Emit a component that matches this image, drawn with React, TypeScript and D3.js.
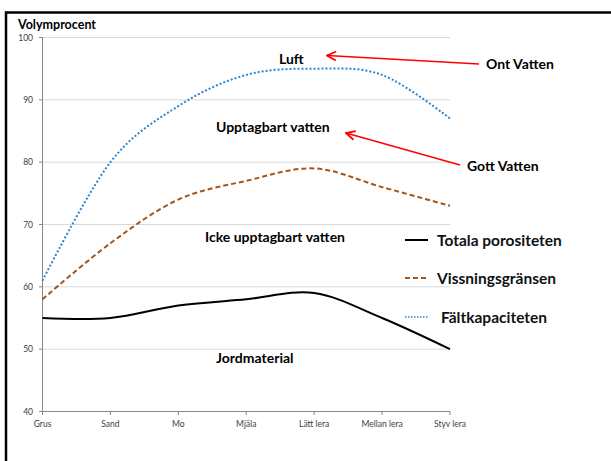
import * as d3 from "d3";

const categories = ["Grus", "Sand", "Mo", "Mjäla", "Lätt lera", "Mellan lera", "Styv lera"];
const totalPorosity = [55, 55, 57, 58, 59, 55, 50];
const wiltingPoint = [58, 67, 74, 77, 79, 76, 73];
const fieldCapacity = [61, 80, 89, 94, 95, 94, 87];
const yTicks = [40, 50, 60, 70, 80, 90, 100];

const FONT = "Lato, 'Open Sans', sans-serif";

const App = () => {
  const x = d3.scalePoint<string>().domain(categories).range([42.5, 450]);
  const y = d3.scaleLinear().domain([40, 100]).range([411.5, 37.5]);

  const line = d3
    .line<number>()
    .x((d, i) => x(categories[i]) as number)
    .y((d) => y(d))
    .curve(d3.curveCatmullRom.alpha(0));

  const series = [
    { name: "Totala porositeten", values: totalPorosity, color: "#000000", dash: "none", width: 2 },
    { name: "Vissningsgränsen", values: wiltingPoint, color: "#A0561C", dash: "5 3", width: 2 },
    { name: "Fältkapaciteten", values: fieldCapacity, color: "#2A84D2", dash: "2 2", width: 2 },
  ];

  const legendY = [240, 278, 317];

  return (
    <svg
      width={611}
      height={461}
      style={{ position: "absolute", left: 0, top: 0, background: "#fff" }}
    >
      <defs>
        <marker id="arrow" viewBox="0 0 10 10" refX="9" refY="5" markerWidth="7" markerHeight="7" orient="auto">
          <path d="M1,1 L9,5 L1,9" fill="none" stroke="#FF0000" strokeWidth="1.6" />
        </marker>
      </defs>
      <rect x={6} y={12.5} width={800} height={600} fill="none" stroke="#000" strokeWidth={2.5} />

      {/* gridlines */}
      {yTicks.slice(1).map((t) => (
        <line key={t} x1={42.5} x2={450} y1={y(t)} y2={y(t)} stroke="#D9D9D9" strokeWidth={1} />
      ))}

      {/* axes */}
      <line x1={42.5} x2={42.5} y1={37.5} y2={411.5} stroke="#868686" />
      <line x1={42.5} x2={450} y1={411.5} y2={411.5} stroke="#868686" />
      {yTicks.map((t) => (
        <g key={t}>
          <line x1={39} x2={42.5} y1={y(t)} y2={y(t)} stroke="#868686" />
          <text x={33} y={y(t) + 3} fontSize={8.5} fill="#404040" textAnchor="end" fontFamily={FONT}>
            {t}
          </text>
        </g>
      ))}
      {categories.map((c) => (
        <g key={c}>
          <line x1={x(c)} x2={x(c)} y1={411.5} y2={415} stroke="#868686" />
          <text x={x(c)} y={427} fontSize={8.5} fill="#404040" textAnchor="middle" fontFamily={FONT}>
            {c}
          </text>
        </g>
      ))}
      <text x={18} y={29} fontSize={12.5} fontWeight="bold" fontFamily={FONT} fill="#000">
        Volymprocent
      </text>

      {/* series */}
      {series.map((s) => (
        <path
          key={s.name}
          d={line(s.values) as string}
          fill="none"
          stroke={s.color}
          strokeWidth={s.width}
          strokeDasharray={s.dash}
        />
      ))}

      {/* annotations */}
      <g fontFamily={FONT} fontWeight="bold" fontSize={14} fill="#000">
        <text x={279} y={64}>Luft</text>
        <text x={216} y={132}>Upptagbart vatten</text>
        <text x={205} y={242}>Icke upptagbart vatten</text>
        <text x={216} y={363}>Jordmaterial</text>
        <text x={486} y={69}>Ont Vatten</text>
        <text x={467} y={171}>Gott Vatten</text>
      </g>
      <line x1={479} y1={64} x2={327} y2={55.5} stroke="#FF0000" strokeWidth={1.6} markerEnd="url(#arrow)" />
      <line x1={460} y1={165} x2={346} y2={133} stroke="#FF0000" strokeWidth={1.6} markerEnd="url(#arrow)" />

      {/* legend */}
      {series.map((s, i) => (
        <g key={s.name}>
          <line
            x1={405}
            x2={428}
            y1={legendY[i]}
            y2={legendY[i]}
            stroke={s.color}
            strokeWidth={i === 2 ? 1.5 : 2}
            strokeDasharray={i === 1 ? "5 3" : i === 2 ? "1.5 1.5" : "none"}
          />
          <text
            x={i === 2 ? 441 : 437}
            y={legendY[i] + 5.5}
            fontSize={15.5}
            fontWeight="bold"
            fontFamily={FONT}
            fill="#111"
          >
            {s.name}
          </text>
        </g>
      ))}
    </svg>
  );
};

export default App;
